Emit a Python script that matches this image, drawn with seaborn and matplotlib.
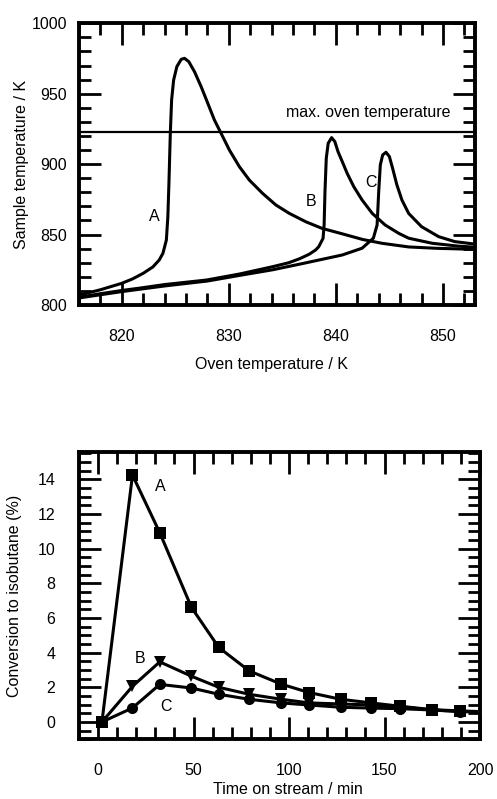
import numpy as np
import pandas as pd
import seaborn as sns
import matplotlib.pyplot as plt
from matplotlib.ticker import MultipleLocator

# upper panel: sample temperature vs oven temperature
oven_a = [816.0, 818.0, 820.0, 821.0, 822.0, 822.9, 823.5, 823.84, 824.16, 824.3,
          824.4, 824.53, 824.65, 824.84, 825.14, 825.55, 825.86, 826.26, 826.79,
          827.41, 828.03, 828.65, 829.27, 830.05, 830.98, 831.91, 833.14, 834.39,
          835.63, 837.18, 838.7, 840.6, 842.5, 844.3, 846.8, 849.5, 853.0]
sample_a = [807.0, 810.8, 815.4, 818.5, 822.5, 827.0, 832.0, 836.7, 846.1, 862.7,
            886.4, 921.9, 945.5, 959.7, 969.2, 974.4, 975.1, 972.7, 965.6,
            955.0, 943.2, 931.3, 921.9, 910.0, 898.2, 888.7, 879.3, 871.0,
            865.1, 859.1, 854.4, 850.5, 846.5, 843.8, 841.2, 840.2, 839.5]

oven_b = [816.0, 818.0, 820.0, 821.7, 824.0, 827.9, 831.0, 834.1, 835.6, 836.6,
          837.5, 838.1, 838.4, 838.8, 838.9, 838.98, 839.1, 839.28, 839.6, 839.9,
          840.2, 840.6, 841.05, 841.67, 842.45, 843.4, 844.6, 845.86, 846.8,
          849.0, 851.4, 853.0]
sample_b = [805.5, 808.0, 810.3, 812.0, 814.5, 817.7, 822.0, 827.2, 830.0, 832.8,
            836.0, 839.0, 841.4, 847.3, 856.8, 880.4, 904.1, 914.8, 918.8, 916.0,
            908.8, 901.7, 893.5, 884.0, 874.5, 865.0, 856.8, 850.9, 847.4,
            843.8, 841.8, 841.0]

oven_c = [816.0, 820.0, 824.0, 828.0, 831.0, 834.1, 837.0, 840.6, 842.45, 843.5,
          843.85, 844.0, 844.15, 844.37, 844.68, 845.0, 845.3, 845.7, 846.17,
          846.8, 848.0, 849.6, 851.1, 853.0]
sample_c = [805.0, 809.5, 813.5, 817.0, 821.0, 825.0, 829.6, 835.5, 840.3, 847.4,
            856.8, 880.4, 899.4, 906.5, 908.4, 905.3, 897.0, 885.2, 874.5,
            865.0, 855.6, 848.5, 845.0, 843.2]

max_oven_temp = 922.5

# lower panel: conversion to isobutane vs time on stream
time_min = [2, 18, 32.3, 48.9, 63.2, 79.1, 96, 110.5, 127.1, 143.1, 158, 175.1, 189.4, 205]
conv_a = [0, 14.25, 10.92, 6.61, 4.30, 2.95, 2.18, 1.70, 1.31, 1.10, 0.91, 0.71, 0.64, 0.58]
conv_b = [0, 2.06, 3.47, 2.64, 2.00, 1.60, 1.31, 1.10, 1.04, 0.98, 0.88, 0.69, 0.62, 0.57]
conv_c = [0, 0.81, 2.17, 1.96, 1.60, 1.31, 1.10, 0.98, 0.85, 0.80, 0.77, 0.69, 0.60, 0.56]

sns.set_theme(style="ticks")
plt.rcParams["font.family"] = ["Liberation Sans", "DejaVu Sans"]
plt.rcParams["text.color"] = "black"
plt.rcParams["axes.labelcolor"] = "black"
fs = 11.5

fig = plt.figure(figsize=(4.97, 7.99), dpi=100)
ax1 = fig.add_axes([0.159, 0.6183, 0.7968, 0.3526])
ax2 = fig.add_axes([0.159, 0.0747, 0.8068, 0.36])

lw = 2.2
for xs, ys in [(oven_a, sample_a), (oven_b, sample_b), (oven_c, sample_c)]:
    sns.lineplot(x=xs, y=ys, ax=ax1, color="black", lw=lw, sort=False, estimator=None)
ax1.axhline(max_oven_temp, color="black", lw=1.6)
ax1.text(835.3, 936.5, "max. oven temperature", fontsize=fs, va="center", ha="left")
ax1.text(823.07, 862.7, "A", fontsize=fs, ha="center", va="center")
ax1.text(837.7, 873.3, "B", fontsize=fs, ha="center", va="center")
ax1.text(843.3, 886.8, "C", fontsize=fs, ha="center", va="center")

ax1.set_xlim(816, 853)
ax1.set_ylim(800, 1000)
ax1.xaxis.set_major_locator(MultipleLocator(10))
ax1.xaxis.set_minor_locator(MultipleLocator(2))
ax1.yaxis.set_major_locator(MultipleLocator(50))
ax1.yaxis.set_minor_locator(MultipleLocator(10))
ax1.set_xlabel("Oven temperature / K", fontsize=fs, va="top")
ax1.set_ylabel("Sample temperature / K", fontsize=fs)
ax1.xaxis.set_label_coords(0.485, -0.183)
ax1.yaxis.set_label_coords(-0.126, 0.5)
ax1.tick_params(axis="x", which="major", pad=17)
ax1.tick_params(axis="y", which="major", pad=8.5)

df = pd.DataFrame({
    "time": time_min * 3,
    "conv": conv_a + conv_b + conv_c,
    "sample": ["A"] * len(time_min) + ["B"] * len(time_min) + ["C"] * len(time_min),
})
sns.lineplot(data=df, x="time", y="conv", style="sample", markers={"A": "s", "B": "v", "C": "o"},
             dashes=False, color="black", lw=lw, markersize=8, markeredgewidth=0,
             ax=ax2, legend=False, sort=False, estimator=None)
ax2.text(32.8, 13.6, "A", fontsize=fs, ha="center", va="center")
ax2.text(21.8, 3.66, "B", fontsize=fs, ha="center", va="center")
ax2.text(35.8, 0.87, "C", fontsize=fs, ha="center", va="center")

ax2.set_xlim(-10, 200)
ax2.set_ylim(-1, 15.6)
ax2.xaxis.set_major_locator(MultipleLocator(50))
ax2.xaxis.set_minor_locator(MultipleLocator(10))
ax2.yaxis.set_major_locator(MultipleLocator(2))
ax2.yaxis.set_minor_locator(MultipleLocator(0.5))
ax2.set_xlabel("Time on stream / min", fontsize=fs, va="top")
ax2.set_ylabel("Conversion to isobutane (%)", fontsize=fs)
ax2.xaxis.set_label_coords(0.521, -0.147)
ax2.yaxis.set_label_coords(-0.141, 0.5)
ax2.tick_params(axis="x", which="major", pad=17)
ax2.tick_params(axis="y", which="major", pad=17)

for ax in (ax1, ax2):
    for sp in ax.spines.values():
        sp.set_linewidth(2.8)
        sp.set_color("black")
    ax.tick_params(which="both", direction="in", top=True, right=True,
                   width=2.0, color="black", labelsize=fs, labelcolor="black")
    ax.tick_params(which="major", length=16)
    ax.tick_params(which="minor", length=8.5)

fig.savefig("out.png", dpi=100)
